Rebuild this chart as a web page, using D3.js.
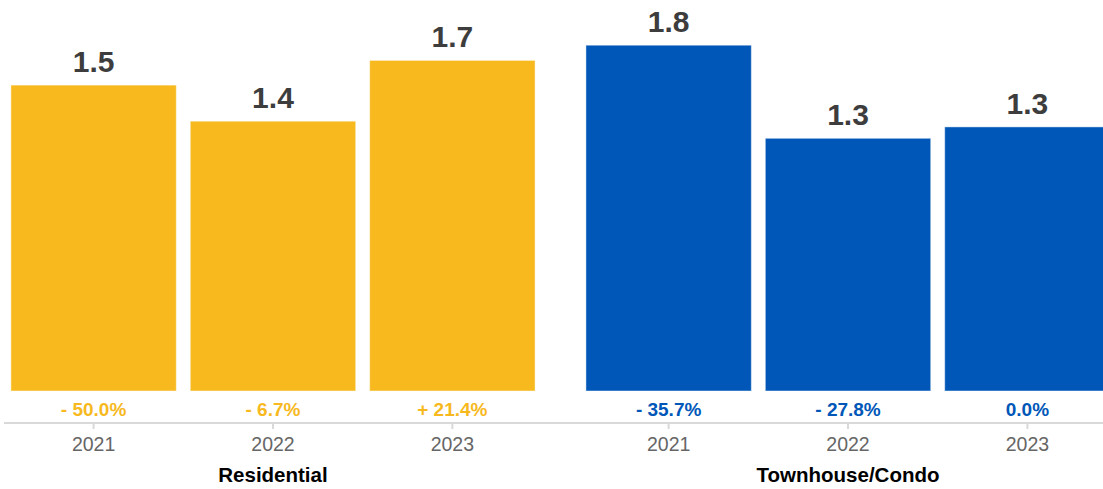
<html>
<head>
<title>Bar Chart</title>
<script type="text/javascript" src="https://cdn.jsdelivr.net/npm/d3@7/dist/d3.min.js"></script>
<style type="text/css">
body { margin: 0; background: white; }
svg text { font-family: "Liberation Sans", Arial, Helvetica, sans-serif; }
</style>
</head>
<body>
<script>

  var width = 1103,
  height = 489;

  // data
  var groups = ["Residential", "Townhouse/Condo"];
  var years = ["2021", "2022", "2023"];
  var residentialValues = [1.61, 1.42, 1.74];
  var townhouseValues = [1.82, 1.33, 1.39];
  var residentialLabels = ["1.5", "1.4", "1.7"];
  var townhouseLabels = ["1.8", "1.3", "1.3"];
  var residentialChange = ["- 50.0%", "- 6.7%", "+ 21.4%"];
  var townhouseChange = ["- 35.7%", "- 27.8%", "0.0%"];
  var colors = ["#f7b91e", "#0057b8"];

  var table = groups.map(function(g, gi){
    var vals = gi == 0 ? residentialValues : townhouseValues;
    var labs = gi == 0 ? residentialLabels : townhouseLabels;
    var chg = gi == 0 ? residentialChange : townhouseChange;
    return { group: g, color: colors[gi], bars: years.map(function(y, i){
      return { year: y, value: vals[i], label: labs[i], change: chg[i] };
    })};
  });

  var svg = d3.select("body").append("svg").attr("width",width).attr("height",height).style("background","white");

  var x0 = d3.scaleBand().domain(groups).range([3, 1118]).paddingInner(0.061);
  var x1 = d3.scaleBand().domain(years).range([0, x0.bandwidth()]).paddingInner(0.078).paddingOuter(0.044);
  var y = d3.scaleLinear().domain([0, 2]).range([391, 11]);

  // axis line
  svg.append("line")
    .attr("x1", 4).attr("x2", width)
    .attr("y1", 423).attr("y2", 423)
    .attr("stroke", "#d9d9d9").attr("stroke-width", 2);

  var g = svg.selectAll(".grp").data(table).enter().append("g")
    .attr("class","grp")
    .attr("transform", function(d){ return "translate(" + x0(d.group) + ",0)"; });

  g.append("g").attr("class","axis")
    .attr("transform","translate(0,424)")
    .call(d3.axisBottom(x1).tickSize(5).tickPadding(8))
    .call(function(a){
      a.select(".domain").remove();
      a.selectAll(".tick line").attr("stroke","#d9d9d9").attr("stroke-width",2);
      a.selectAll("text").attr("font-size","19.5px").attr("fill","#666").attr("font-family","Liberation Sans, Arial, sans-serif");
    });

  var bar = g.selectAll(".bar").data(function(d){ return d.bars.map(function(b){ b.color = d.color; return b; }); })
    .enter().append("g").attr("class","bar");

  bar.append("rect")
    .attr("x", function(d){ return x1(d.year); })
    .attr("width", x1.bandwidth())
    .attr("y", function(d){ return y(d.value); })
    .attr("height", function(d){ return y(0) - y(d.value); })
    .attr("fill", function(d){ return d.color; })
    .attr("stroke", "rgba(255,255,255,0.45)")
    .attr("stroke-width", 1);

  bar.append("text")
    .attr("x", function(d){ return x1(d.year) + x1.bandwidth()/2; })
    .attr("y", function(d){ return y(d.value) - 13; })
    .attr("text-anchor","middle")
    .attr("font-size","30px").attr("font-weight","bold")
    .attr("fill","#3d3d3d")
    .text(function(d){ return d.label; });

  bar.append("text")
    .attr("x", function(d){ return x1(d.year) + x1.bandwidth()/2; })
    .attr("y", 415.5)
    .attr("text-anchor","middle")
    .attr("font-size","19px").attr("font-weight","bold")
    .attr("fill", function(d){ return d.color; })
    .text(function(d){ return d.change; });

  g.append("text")
    .attr("x", x0.bandwidth()/2)
    .attr("y", 482)
    .attr("text-anchor","middle")
    .attr("font-size","20.5px").attr("font-weight","bold")
    .attr("fill","#000")
    .text(function(d){ return d.group; });

</script>
</body>
</html>
